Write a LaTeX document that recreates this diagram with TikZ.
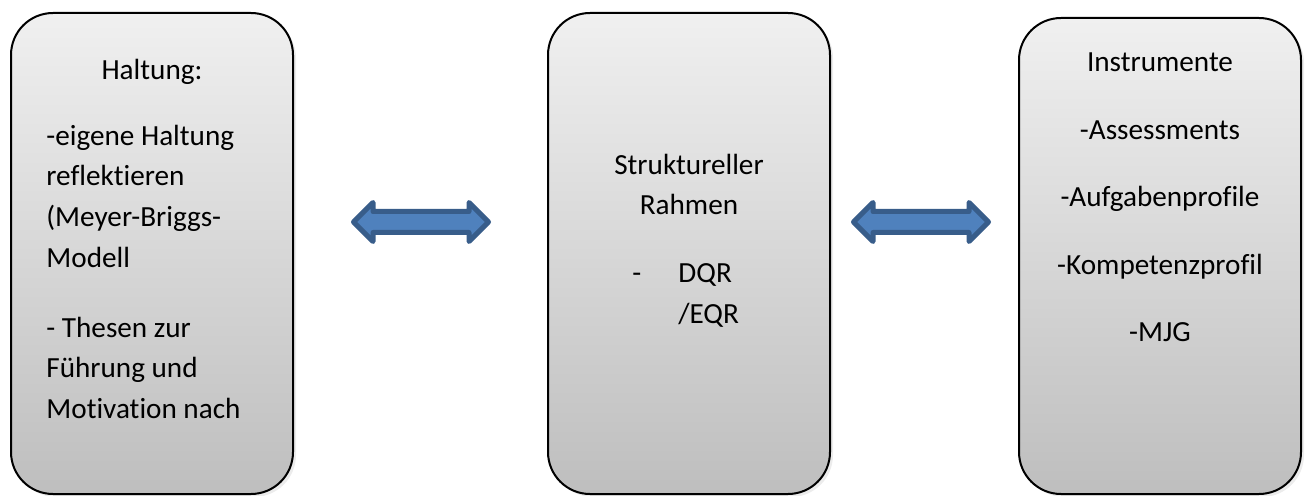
\documentclass[tikz,border=0pt]{standalone}
\usepackage{fontspec}
\setmainfont{Carlito}[Ligatures=NoCommon]
\usetikzlibrary{shapes.arrows,shadows}
\definecolor{paneltop}{HTML}{F0F0F0}
\definecolor{panelbot}{HTML}{BEBEBE}
\definecolor{arrowfill}{HTML}{4F81BD}
\definecolor{arrowbd}{HTML}{385D8A}
\tikzset{
  panel/.style={rectangle,rounded corners=21pt,draw=black,line width=1pt,
    top color=paneltop,bottom color=panelbot,
    minimum width=141pt,minimum height=240.5pt,inner sep=0pt,
    drop shadow={shadow xshift=1.5pt,shadow yshift=-1.5pt,opacity=0.15}},
  paneltext/.style={font=\fontsize{14.6}{20.25}\selectfont,text=black,inner sep=0pt},
  dblarrow/.style={double arrow,double arrow head extend=4.5pt,
    minimum height=67.5pt,inner xsep=0pt,inner ysep=4pt,
    fill=arrowfill,draw=arrowbd,line width=2.5pt,line join=round},
}
\begin{document}
\begin{tikzpicture}[x=0.5pt,y=-0.5pt]
  \useasboundingbox (0,0) rectangle (1305,496);
  % panels
  \node[panel] (haltbox) at (152,253.5) {};
  \node[panel] (strbox) at (689,253.5) {};
  \node[panel,minimum height=238pt] (instbox) at (1160,256) {};

  % panel texts (base = last line)
  \node[paneltext,anchor=base] (halttitle) at (152,80) {Haltung:};
  \node[paneltext,align=left,anchor=base west] (haltbody) at (46,418)
    {-eigene Haltung\\reflektieren\\(Meyer-Briggs-\\Modell\\[14.75pt]%
     - Thesen zur\\Führung und\\Motivation nach};
  \node[paneltext,align=center,anchor=base] (strtitle) at (689,215)
    {Struktureller\\Rahmen};
  \node[paneltext,anchor=base west] (strlist) at (632,283)
    {\begin{tabular}[t]{@{}p{23pt}@{}l@{}}-&DQR\\&/EQR\end{tabular}};
  \node[paneltext,align=center,anchor=base] (insttext) at (1160,342)
    {Instrumente\\[13.5pt]-Assessments\\[13.5pt]-Aufgabenprofile\\[13.5pt]%
     -Kompetenzprofil\\[13.5pt]-MJG};

  % block arrows
  \node[dblarrow] (arrowa) at (421,222) {};
  \node[dblarrow] (arrowb) at (921,222) {};
\end{tikzpicture}
\end{document}
